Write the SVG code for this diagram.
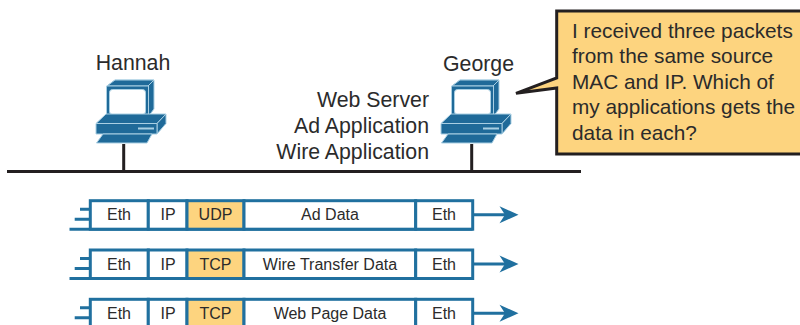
<svg xmlns="http://www.w3.org/2000/svg" xmlns:xlink="http://www.w3.org/1999/xlink" width="800" height="325" viewBox="0 0 800 325">
<style>
text{font-family:"Liberation Sans",Arial,sans-serif;fill:#2b2b2b}
.lbl{font-size:21.300px}
.app{font-size:21.300px;text-anchor:end}
.call{font-size:20.800px}
.f{font-size:16px;text-anchor:middle}
.cell{fill:#fff;stroke:#20709f;stroke-width:3}
.hl{fill:#fdd47f}
.bl{fill:#1f6a99;stroke:#a9cfe3;stroke-width:1;stroke-linejoin:round}
.ln{stroke:#231f20;stroke-width:3;fill:none}
.bd{stroke:#20709f;stroke-width:3;fill:none}
</style>
<defs>
<g id="pc">
<path class="bl" d="M107 86L115 80H154V109L148 117V86Z"/>
<path class="bl" d="M107 86L115 80H154L148 86Z"/>
<rect class="bl" x="106.500" y="86" width="42" height="31.500"/>
<rect x="109.500" y="89.500" width="36" height="25" rx="3" fill="#fff" stroke="#a9cfe3" stroke-width="1"/>
<path class="bl" d="M96 123.500L106 114H166L157 123.500Z"/>
<path class="bl" d="M157 123.500L166 114V123.500L157 134Z"/>
<rect class="bl" x="96" y="123.500" width="61" height="10.500"/>
<rect x="138" y="127.500" width="16" height="2" fill="#a9cfe3"/>
<path class="bl" d="M96.500 143L103 134H152L147 143Z"/>
</g>
<g id="frame">
<path class="bd" d="M69.500 28.500H472.700M80 8.500H90.300M74.700 18.500H90.300M472.700 14H508"/>
<rect class="cell" x="90.300" y="0" width="58" height="28.500"/>
<rect class="cell" x="148.300" y="0" width="38.700" height="28.500"/>
<rect class="cell hl" x="187" y="0" width="57" height="28.500"/>
<rect class="cell" x="244" y="0" width="171.700" height="28.500"/>
<rect class="cell" x="415.700" y="0" width="57" height="28.500"/>
<path d="M518.500 14L499.500 5.500L505 14L499.500 22.500Z" fill="#20709f"/>
</g>
</defs>
<g id="connectors">
<path class="ln" d="M7 171.500H581M123.700 144V171.500M471.700 144V171.500"/>
</g>
<g id="hannah">
<use xlink:href="#pc"/>
<text class="lbl" x="133" y="70" text-anchor="middle">Hannah</text>
</g>
<g id="george">
<use xlink:href="#pc" x="345"/>
<text class="lbl" x="478.500" y="71" text-anchor="middle">George</text>
<text class="app" x="429" y="107">Web Server</text>
<text class="app" x="429" y="133">Ad Application</text>
<text class="app" x="429" y="159">Wire Application</text>
</g>
<g id="callout">
<path d="M803 11H556.700V78L516 93.300L556.700 88V154H803Z" fill="#fdd47f" stroke="#231f20" stroke-width="3"/>
<text class="call" x="572" y="37.500">I received three packets</text>
<text class="call" x="572" y="63">from the same source</text>
<text class="call" x="572" y="88.500">MAC and IP. Which of</text>
<text class="call" x="572" y="114">my applications gets the</text>
<text class="call" x="572" y="139.500">data in each?</text>
</g>
<g id="frame1" transform="translate(0,200.700)">
<use xlink:href="#frame"/>
<text class="f" x="119" y="19.500">Eth</text><text class="f" x="168" y="19.500">IP</text><text class="f" x="215.500" y="19.500">UDP</text><text class="f" x="330" y="19.500">Ad Data</text><text class="f" x="444" y="19.500">Eth</text>
</g>
<g id="frame2" transform="translate(0,250)">
<use xlink:href="#frame"/>
<text class="f" x="119" y="19.500">Eth</text><text class="f" x="168" y="19.500">IP</text><text class="f" x="215.500" y="19.500">TCP</text><text class="f" x="330" y="19.500">Wire Transfer Data</text><text class="f" x="444" y="19.500">Eth</text>
</g>
<g id="frame3" transform="translate(0,299.300)">
<use xlink:href="#frame"/>
<text class="f" x="119" y="19.500">Eth</text><text class="f" x="168" y="19.500">IP</text><text class="f" x="215.500" y="19.500">TCP</text><text class="f" x="330" y="19.500">Web Page Data</text><text class="f" x="444" y="19.500">Eth</text>
</g>
</svg>
